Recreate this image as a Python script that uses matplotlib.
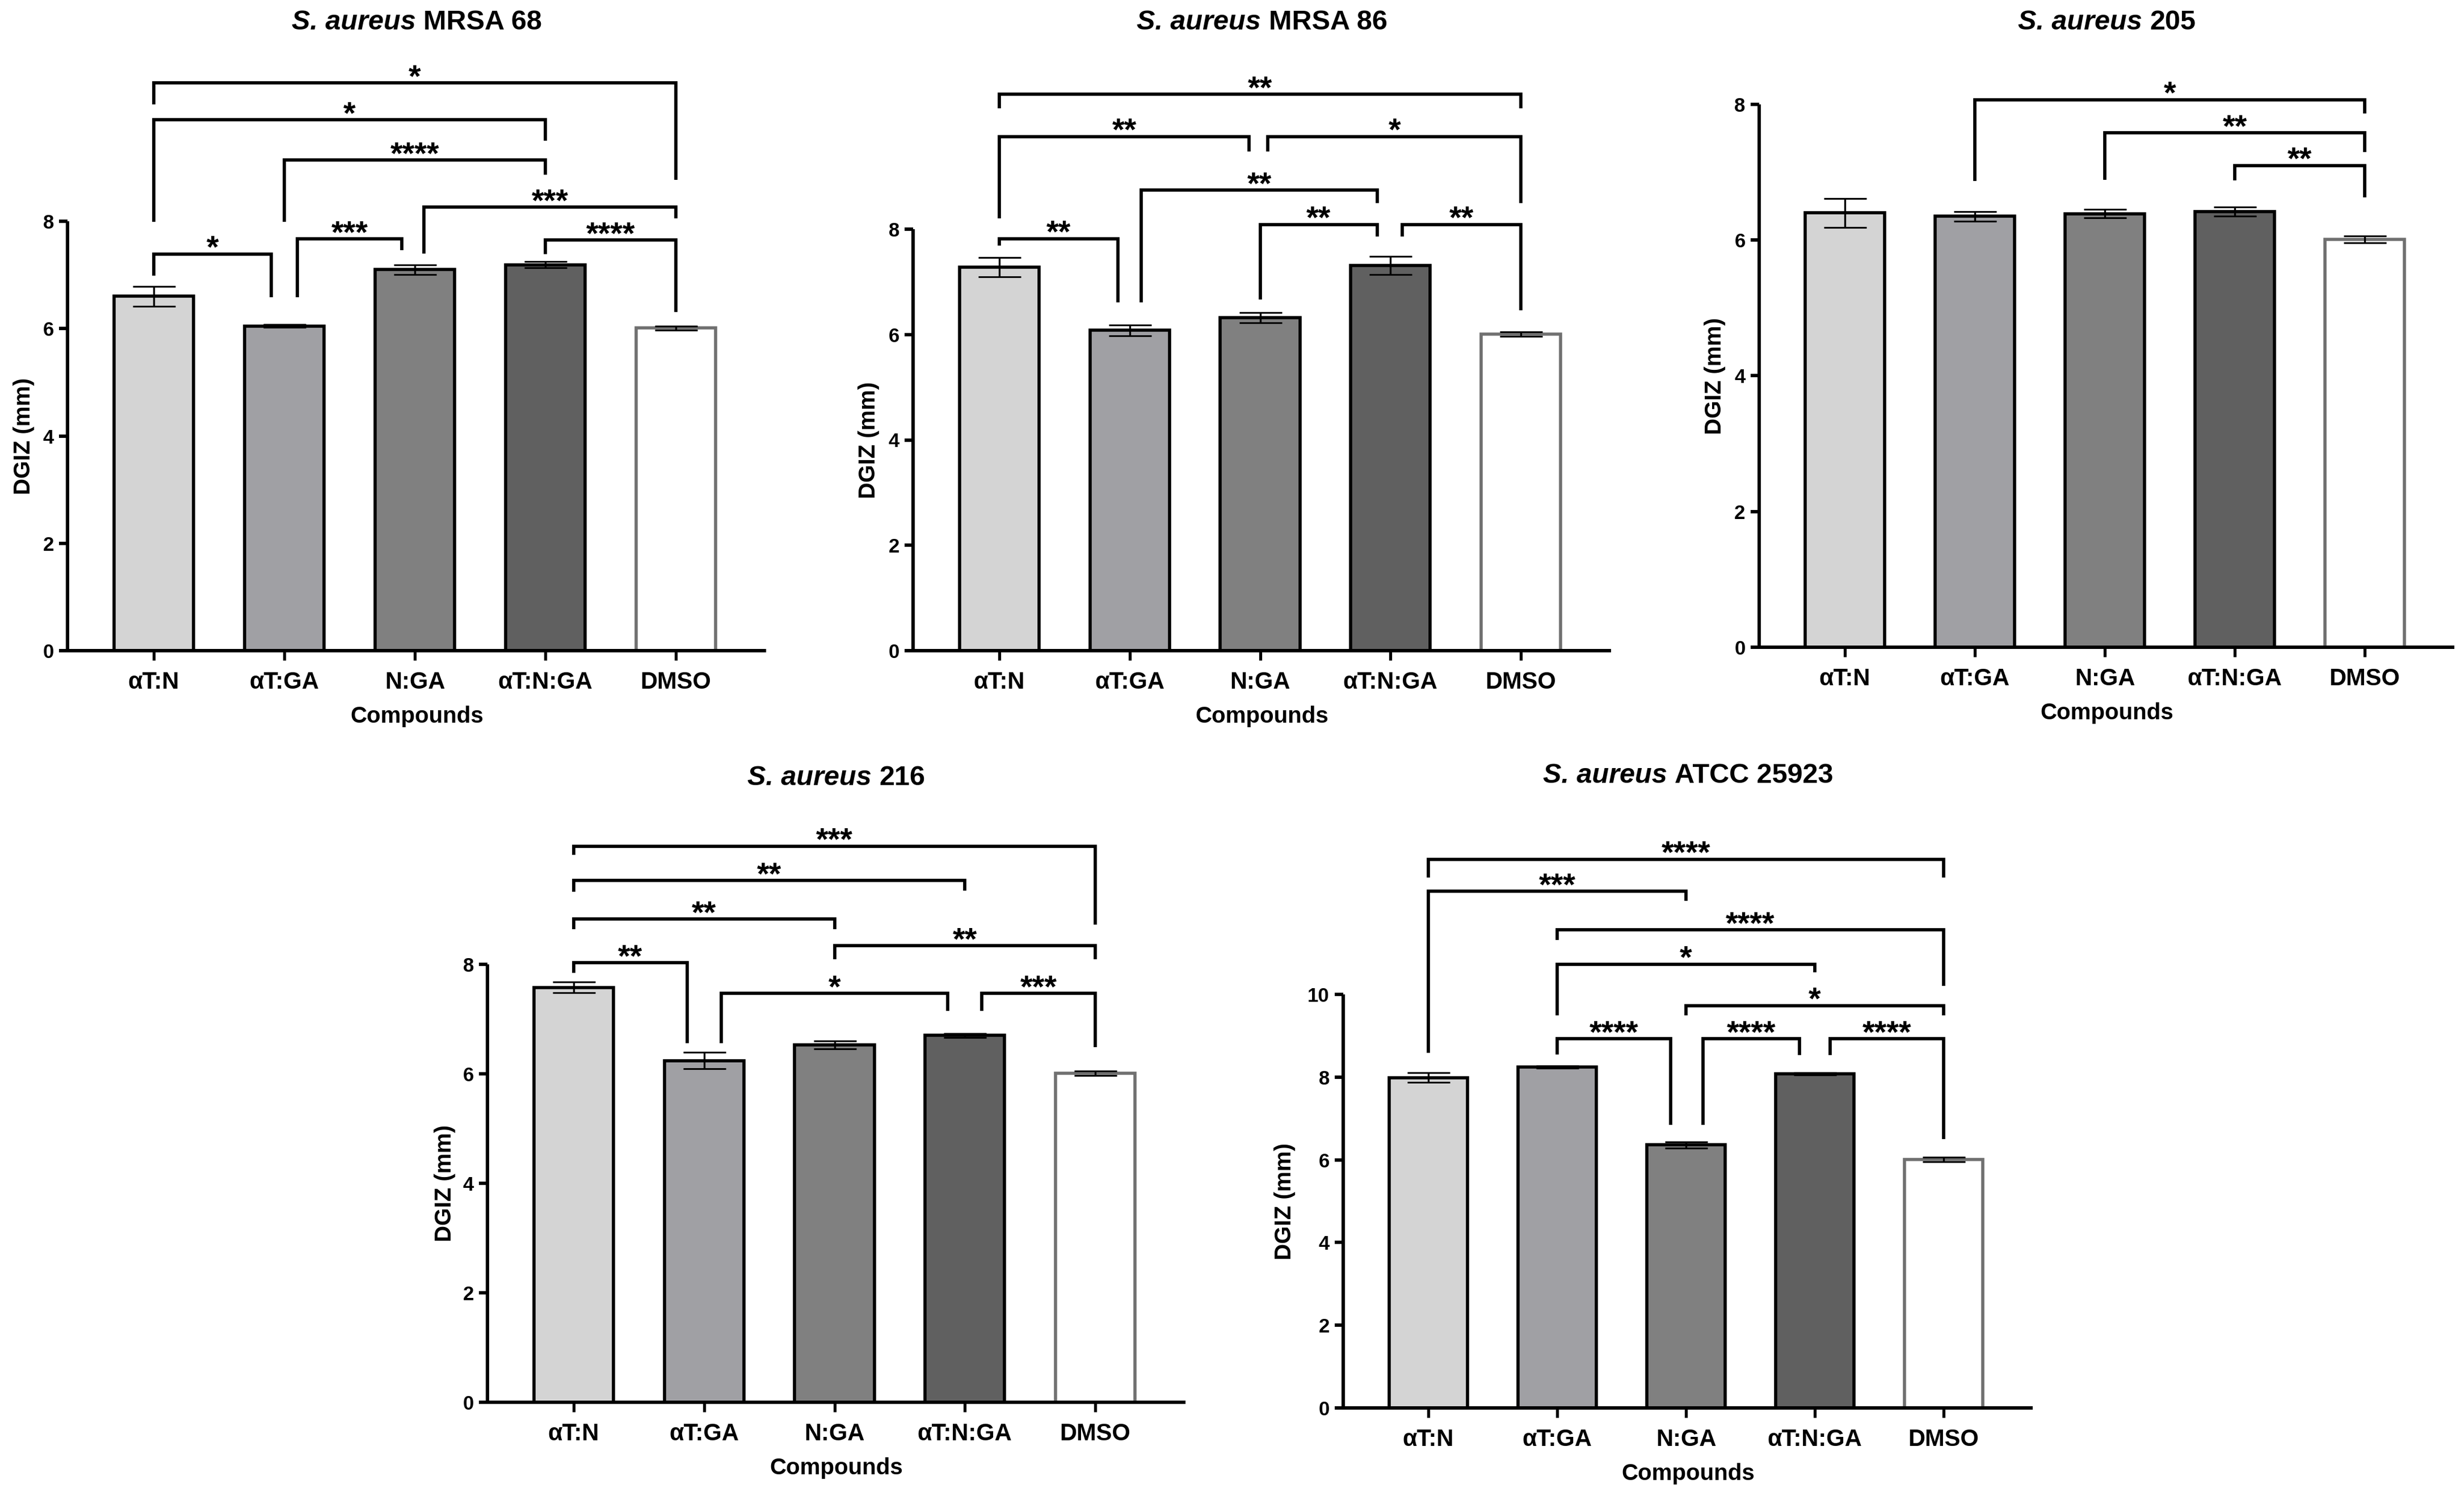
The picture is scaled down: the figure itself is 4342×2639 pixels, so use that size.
import matplotlib.pyplot as plt

plt.rcParams['font.family'] = ['Liberation Sans', 'DejaVu Sans']
plt.rcParams['font.weight'] = 'bold'

# Categories shared by every panel
compounds = ['αT:N', 'αT:GA', 'N:GA', 'αT:N:GA', 'DMSO']

# Strain titles: (italic part, plain part)
strains = [('S. aureus', 'MRSA 68'), ('S. aureus', 'MRSA 86'), ('S. aureus', '205'),
           ('S. aureus', '216'), ('S. aureus', 'ATCC 25923')]

# Mean DGIZ (mm) and SD per compound
mrsa68_mean = [6.60, 6.05, 7.10, 7.19, 6.01]
mrsa68_sd = [0.18, 0.03, 0.09, 0.06, 0.04]
mrsa86_mean = [7.28, 6.08, 6.32, 7.31, 6.01]
mrsa86_sd = [0.18, 0.10, 0.10, 0.17, 0.04]
s205_mean = [6.40, 6.35, 6.39, 6.42, 6.01]
s205_sd = [0.21, 0.07, 0.06, 0.07, 0.05]
s216_mean = [7.58, 6.24, 6.53, 6.70, 6.01]
s216_sd = [0.10, 0.15, 0.07, 0.04, 0.04]
atcc_mean = [7.99, 8.24, 6.36, 8.08, 6.01]
atcc_sd = [0.12, 0.03, 0.08, 0.03, 0.05]

# Significance brackets: (group a, group b, label, top, left leg end, right leg end, dx a, dx b)
mrsa68_pairs = [
    (0, 4, '*', 10.58, 10.18, 8.77, 0, 0),
    (0, 3, '*', 9.89, 7.99, 9.50, 0, 0),
    (1, 3, '****', 9.14, 7.99, 8.87, 0, 0),
    (2, 4, '***', 8.26, 7.40, 8.05, 0.07, 0),
    (3, 4, '****', 7.65, 7.39, 6.31, 0, 0),
    (1, 2, '***', 7.67, 6.58, 7.46, 0.10, -0.10),
    (0, 1, '*', 7.39, 6.99, 6.58, 0, -0.10),
]
mrsa86_pairs = [
    (0, 4, '**', 10.56, 10.29, 10.29, 0, 0),
    (0, 2, '**', 9.76, 8.20, 9.47, 0, -0.085),
    (2, 4, '*', 9.76, 9.47, 8.49, 0.06, 0),
    (1, 3, '**', 8.74, 6.61, 8.49, 0.09, -0.10),
    (2, 3, '**', 8.09, 6.66, 7.86, 0, -0.10),
    (3, 4, '**', 8.09, 7.86, 6.46, 0.09, 0),
    (0, 1, '**', 7.82, 7.69, 6.61, 0, -0.09),
]
s205_pairs = [
    (1, 4, '*', 8.07, 6.87, 7.87, 0, 0),
    (2, 4, '**', 7.58, 6.89, 7.30, 0, 0),
    (3, 4, '**', 7.10, 6.88, 6.63, 0, 0),
]
s216_pairs = [
    (0, 4, '***', 10.16, 10.00, 8.73, 0, 0),
    (0, 3, '**', 9.53, 9.33, 9.35, 0, 0),
    (0, 2, '**', 8.83, 8.64, 8.64, 0, 0),
    (2, 4, '**', 8.34, 8.09, 8.09, 0, 0),
    (0, 1, '**', 8.03, 7.84, 6.56, 0, -0.13),
    (1, 3, '*', 7.47, 6.56, 7.15, 0.13, -0.13),
    (3, 4, '***', 7.47, 7.15, 6.49, 0.13, 0),
]
atcc_pairs = [
    (0, 4, '****', 13.27, 12.82, 12.82, 0, 0),
    (0, 2, '***', 12.49, 8.59, 12.26, 0, 0),
    (1, 4, '****', 11.56, 11.32, 10.20, 0, 0),
    (1, 3, '*', 10.73, 9.49, 10.53, 0, 0),
    (2, 4, '*', 9.73, 9.49, 9.49, 0, 0),
    (1, 2, '****', 8.93, 8.55, 6.85, 0, -0.12),
    (2, 3, '****', 8.93, 6.85, 8.53, 0.13, -0.12),
    (3, 4, '****', 8.93, 8.53, 6.50, 0.12, 0),
]

y_max = [8, 8, 8, 8, 10]

means = [mrsa68_mean, mrsa86_mean, s205_mean, s216_mean, atcc_mean]
sds = [mrsa68_sd, mrsa86_sd, s205_sd, s216_sd, atcc_sd]
pairs = [mrsa68_pairs, mrsa86_pairs, s205_pairs, s216_pairs, atcc_pairs]

# Styles
bar_colors = ['#d4d4d4', '#a0a0a4', '#808080', '#606060', '#ffffff']
edge_colors = ['black', 'black', 'black', 'black', '#707070']

# Layout in pixels: first tick x, last tick x, axis bottom, axis top, title y, ylabel offset
W, H, DPI = 4342, 2639, 100
X_LEFT, X_RIGHT = -0.66, 4.69
layout = [
    (271, 1191, 1147, 390, 39, 77),
    (1761, 2680, 1147, 404, 39, 78),
    (3251, 4167, 1141, 184, 40, 78),
    (1011, 1930, 2472, 1700, 1371, 75),
    (2517, 3425, 2482, 1753, 1368, 103),
]

fig = plt.figure(figsize=(W / DPI, H / DPI), dpi=DPI)
renderer = fig.canvas.get_renderer()


def draw_title(xc, yc, italic_part, plain_part, size=35):
    t1 = fig.text(0, 1 - yc / H, italic_part, fontsize=size, fontstyle='italic',
                  fontweight='bold', ha='left', va='center')
    t2 = fig.text(0, 1 - yc / H, plain_part, fontsize=size, fontweight='bold',
                  ha='left', va='center')
    w1 = t1.get_window_extent(renderer).width
    w2 = t2.get_window_extent(renderer).width
    gap = 0.278 * size * DPI / 72
    x0 = xc - (w1 + gap + w2) / 2
    t1.set_x(x0 / W)
    t2.set_x((x0 + w1 + gap) / W)


for k in range(5):
    t0, t4, bottom, top, title_y, ylab_off = layout[k]
    step = (t4 - t0) / 4
    left = t0 + X_LEFT * step
    right = t0 + X_RIGHT * step
    w_px = right - left
    h_px = bottom - top
    ax = fig.add_axes([left / W, 1 - bottom / H, w_px / W, h_px / H])

    x = list(range(len(compounds)))
    ax.bar(x, means[k], width=0.61, color=bar_colors, edgecolor=edge_colors,
           linewidth=4.0, zorder=2)
    ax.errorbar(x, means[k], yerr=sds[k], fmt='none', ecolor='black',
                elinewidth=2.4, capsize=27, capthick=2.2, zorder=3)

    # significance brackets
    for a, b, label, y_top, y_a, y_b, dx_a, dx_b in pairs[k]:
        xa = a + dx_a
        xb = b + dx_b
        ax.plot([xa, xa, xb, xb], [y_a, y_top, y_top, y_b], color='black',
                linewidth=4.1, solid_joinstyle='miter', solid_capstyle='butt',
                clip_on=False, zorder=4)
        ax.annotate(label, xy=((xa + xb) / 2, y_top), xytext=(0, -4.3),
                    textcoords='offset points', ha='center', va='baseline',
                    fontsize=40, fontweight='bold', annotation_clip=False)

    ax.set_xlim(X_LEFT, X_RIGHT)
    ax.set_ylim(0, y_max[k])
    ax.set_yticks(range(0, y_max[k] + 1, 2))
    ax.set_xticks(x)
    ax.set_xticklabels(compounds)

    for side in ['top', 'right']:
        ax.spines[side].set_visible(False)
    for side in ['left', 'bottom']:
        ax.spines[side].set_linewidth(4.3)
        ax.spines[side].set_capstyle('butt')

    ax.tick_params(axis='x', length=12, width=3.8, pad=14, labelsize=30)
    ax.tick_params(axis='y', length=11, width=4.3, pad=6.5, labelsize=25)

    ax.set_ylabel('DGIZ (mm)', fontsize=29, fontweight='bold')
    ax.yaxis.set_label_coords(-ylab_off / w_px, 0.5)
    ax.yaxis.label.set_va('center')
    ax.text(0.5, -116 / h_px, 'Compounds', transform=ax.transAxes, ha='center',
            va='center', fontsize=29, fontweight='bold')

    draw_title((left + right) / 2, title_y, strains[k][0], strains[k][1])

fig.savefig('out.png', dpi=DPI)
